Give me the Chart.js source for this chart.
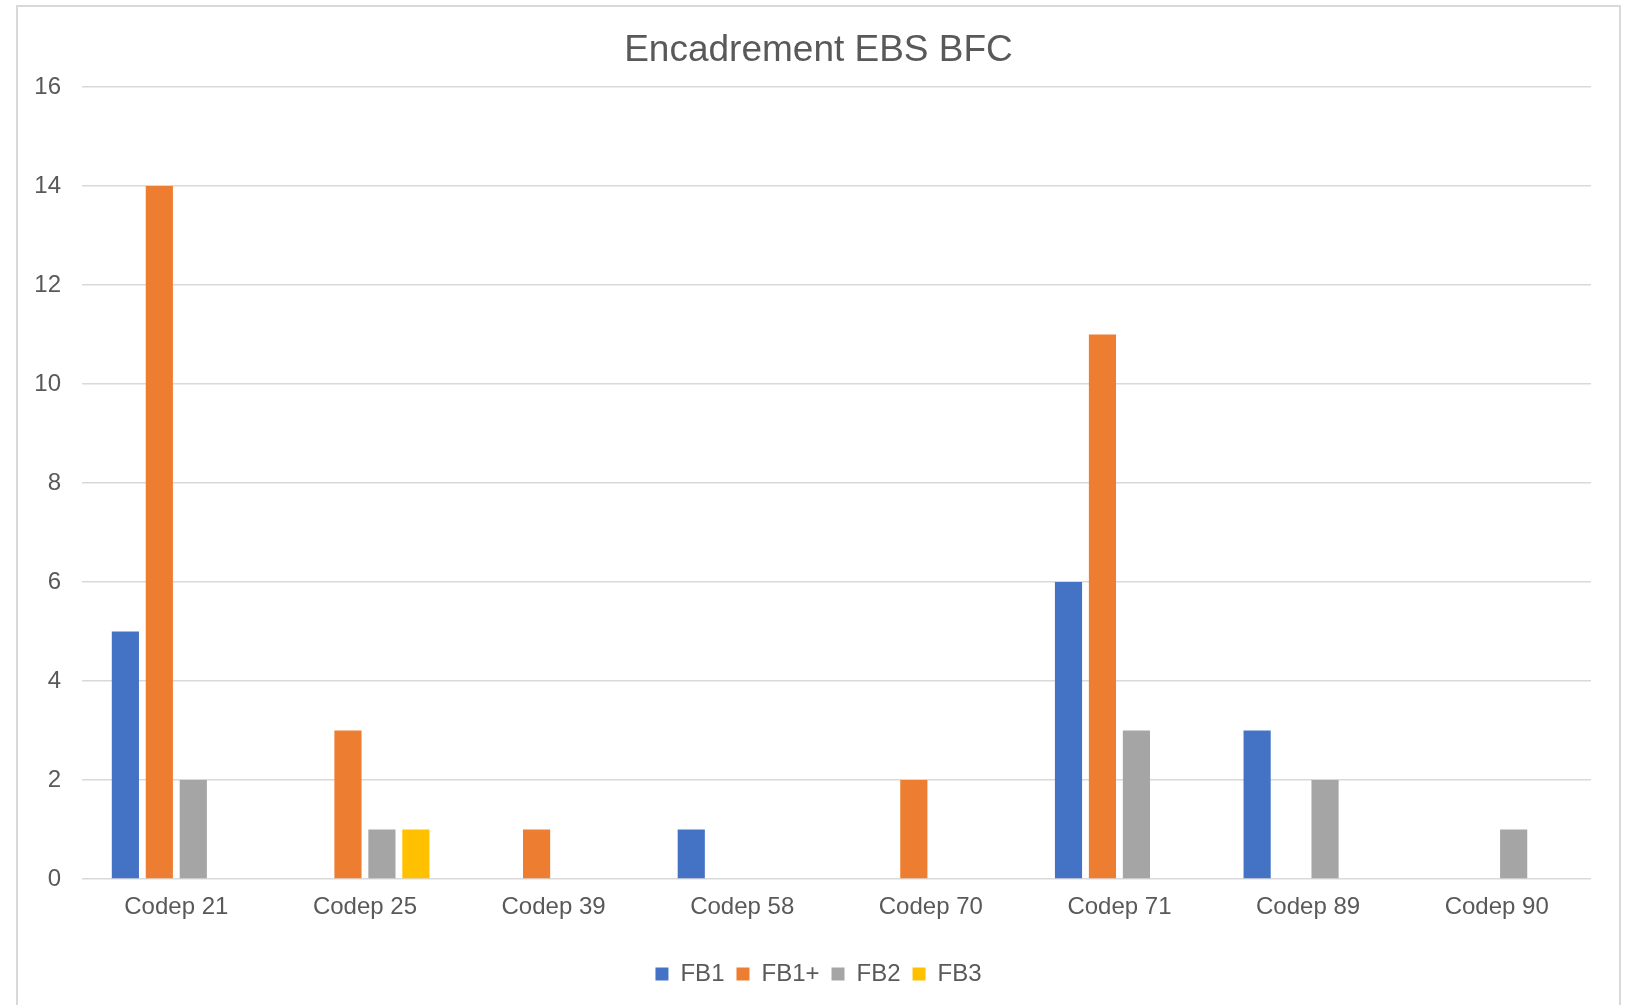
<!DOCTYPE html>
<html>
<head>
<meta charset="utf-8">
<title>Encadrement EBS BFC</title>
<script src="https://cdn.jsdelivr.net/npm/chart.js@4"></script>
<style>
  html, body { margin: 0; padding: 0; background: #fff; }
  body { width: 1627px; height: 1005px; position: relative; overflow: hidden; }
  #frame {
    position: absolute; left: 16px; top: 5px; width: 1605px; height: 1020px;
    border: 2px solid #d9d9d9; box-sizing: border-box;
  }
  #wrap { position: absolute; left: 17px; top: 0; width: 1603px; height: 1005px; }
</style>
</head>
<body>
<div id="frame"></div>
<div id="wrap"><canvas id="chart"></canvas></div>
<script>
// valeurs
const categories = ["Codep 21", "Codep 25", "Codep 39", "Codep 58", "Codep 70", "Codep 71", "Codep 89", "Codep 90"];
const fb1     = [5, null, null, 1, null, 6, 3, null];
const fb1Plus = [14, 3, 1, null, 2, 11, null, null];
const fb2     = [2, 1, null, null, null, 3, 2, 1];
const fb3     = [null, 1, null, null, null, null, null, null];
const yTicks  = [0, 2, 4, 6, 8, 10, 12, 14, 16];

const textColor = "#595959";
const gridColor = "#d9d9d9";
const fontFamily = "'Liberation Sans', Arial, sans-serif";

Chart.defaults.font.family = fontFamily;
Chart.defaults.color = textColor;

const ctx = document.getElementById("chart").getContext("2d");
const chart = new Chart(ctx, {
  type: "bar",
  data: {
    labels: categories,
    datasets: [
      { label: "FB1",  data: fb1,     backgroundColor: "#4472c4" },
      { label: "FB1+", data: fb1Plus, backgroundColor: "#ed7d31" },
      { label: "FB2",  data: fb2,     backgroundColor: "#a5a5a5" },
      { label: "FB3",  data: fb3,     backgroundColor: "#ffc000" }
    ]
  },
  options: {
    responsive: true,
    maintainAspectRatio: false,
    animation: false,
    categoryPercentage: 0.72,
    barPercentage: 0.8,
    layout: { padding: { top: 0, left: 0, right: 0, bottom: 9 } },
    plugins: {
      title: {
        display: true,
        text: "Encadrement EBS BFC",
        color: textColor,
        font: { size: 37, weight: "normal" },
        padding: { top: 28.8, bottom: 13.8 }
      },
      legend: {
        position: "bottom",
        labels: {
          boxWidth: 13,
          boxHeight: 13,
          padding: 12,
          color: textColor,
          font: { size: 24 }
        }
      },
      tooltip: { enabled: false }
    },
    scales: {
      x: {
        grid: { display: false, drawTicks: false },
        border: { display: false },
        ticks: { padding: 14, font: { size: 24 }, color: textColor },
        afterFit: (s) => { s.height = 71; }
      },
      y: {
        min: 0,
        max: 16,
        afterBuildTicks: (s) => { s.ticks = yTicks.map(v => ({ value: v })); },
        grid: { color: gridColor, lineWidth: 1.5, drawTicks: false },
        border: { display: false },
        ticks: { padding: 21, font: { size: 24 }, color: textColor },
        afterFit: (s) => { s.width = 65; }
      },
      yRight: {
        position: "right",
        grid: { display: false, drawTicks: false },
        border: { display: false },
        ticks: { display: false },
        afterFit: (s) => { s.width = 29; }
      }
    }
  }
});
</script>
</body>
</html>
